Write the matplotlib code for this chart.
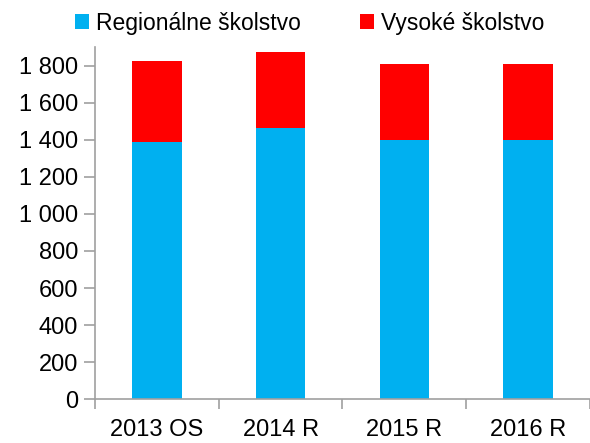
import matplotlib
matplotlib.use("Agg")
import matplotlib.pyplot as plt
from matplotlib.ticker import FuncFormatter, FixedLocator

plt.rcParams['font.family'] = ['Liberation Sans', 'DejaVu Sans']

categories = ["2013 OS", "2014 R", "2015 R", "2016 R"]
regional = [1387, 1462, 1396, 1396]
higher = [435, 412, 414, 414]
series_names = ["Regionálne školstvo", "Vysoké školstvo"]
colors = ["#00B0F0", "#FF0000"]

fig = plt.figure(figsize=(5.9, 4.43), dpi=100)
ax = fig.add_axes([0.161, 0.0986, 0.839, 0.7954])

x = list(range(len(categories)))
ax.bar(x, regional, width=0.4, color=colors[0], label=series_names[0])
ax.bar(x, higher, width=0.4, bottom=regional, color=colors[1], label=series_names[1])

ax.set_xlim(-0.5, len(categories) - 0.5)
ax.set_ylim(0, 1900)
ax.set_yticks(range(0, 1801, 200))
ax.yaxis.set_major_formatter(FuncFormatter(lambda v, p: f"{int(v):,}".replace(",", " ")))
ax.set_xticks(x)
ax.set_xticklabels(categories)
ax.xaxis.set_minor_locator(FixedLocator([i - 0.5 for i in range(len(categories) + 1)]))

for s in ["top", "right"]:
    ax.spines[s].set_visible(False)
for s in ["left", "bottom"]:
    ax.spines[s].set_color("#a0a0a0")
    ax.spines[s].set_linewidth(1.2)

ax.tick_params(axis="y", direction="out", length=8, color="#a0a0a0", width=1.2, labelsize=17, pad=4)
ax.tick_params(axis="x", which="major", length=0, labelsize=17, pad=14)
ax.tick_params(axis="x", which="minor", direction="out", length=7, color="#a0a0a0", width=1.2)

leg = fig.legend(loc="center", bbox_to_anchor=(0.525, 0.948), ncol=2, frameon=False,
                 fontsize=16.5, handlelength=0.6, handleheight=0.6, handletextpad=0.3,
                 columnspacing=2.6)

fig.savefig("out.png", dpi=100)
